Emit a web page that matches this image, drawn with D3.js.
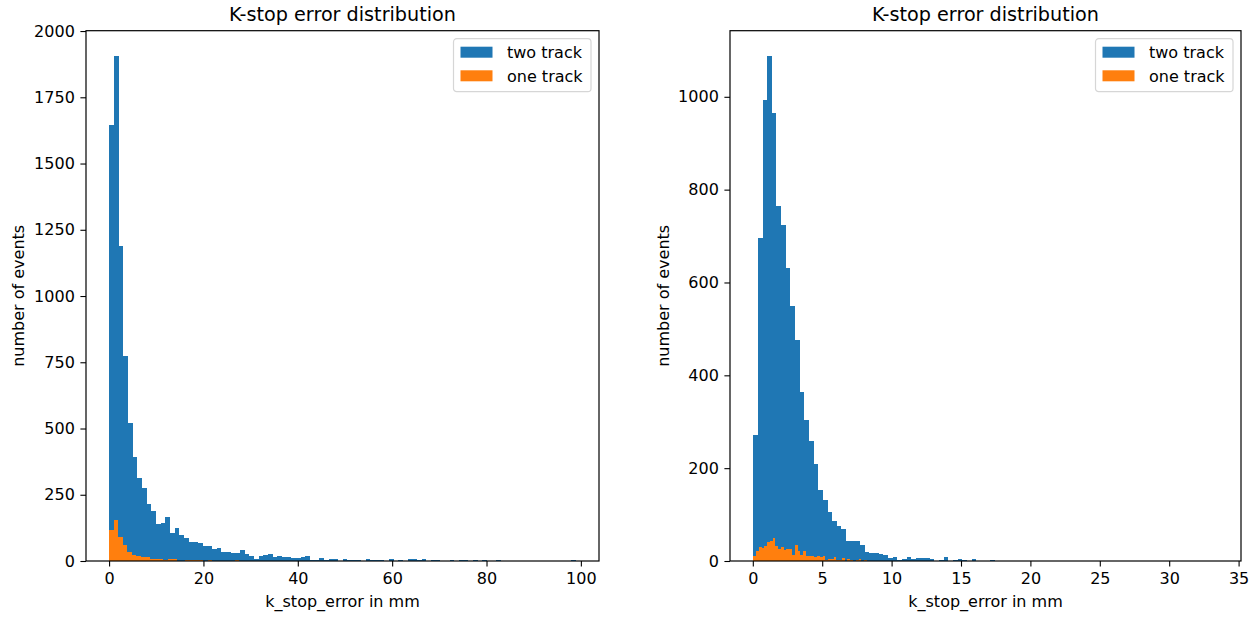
<!DOCTYPE html>
<html>
<head>
<meta charset="utf-8">
<script src="https://cdn.jsdelivr.net/npm/d3@7/dist/d3.min.js"></script>
<style>
  html, body { margin: 0; padding: 0; background: #fff; }
  svg { display: block; font-family: "DejaVu Sans", sans-serif; }
</style>
</head>
<body>
<svg id="chart" width="1256" height="619"></svg>
<script>
// histogram counts, 100 bins each
const leftTwoTrack = [
  1645, 1906, 1189, 774, 521, 392, 313, 275, 215, 189,
  140, 143, 166, 106, 125, 98, 87, 72, 72, 68,
  57, 57, 45, 49, 34, 34, 30, 30, 42, 26,
  19, 8, 19, 23, 26, 15, 19, 15, 15, 11,
  11, 15, 19, 4, 4, 11, 4, 8, 8, 1,
  8, 4, 4, 4, 1, 8, 4, 4, 4, 0,
  8, 0, 4, 0, 8, 8, 4, 8, 0, 4,
  4, 0, 0, 4, 0, 4, 4, 0, 4, 0,
  4, 0, 0, 4, 0, 0, 0, 0, 0, 0,
  0, 0, 0, 0, 0, 0, 0, 0, 0, 4
];
const leftOneTrack = [
  117, 155, 91, 60, 35, 23, 19, 15, 15, 8,
  8, 8, 4, 8, 8, 0, 0, 4, 4, 4,
  4, 0, 4, 0, 0, 0, 0, 0, 4, 0,
  0, 0, 0, 0, 0, 0, 0, 0, 0, 0,
  0, 0, 0, 0, 0, 0, 0, 0, 0, 0,
  0, 0, 0, 0, 0, 0, 0, 0, 0, 0,
  0, 0, 0, 0, 0, 0, 0, 0, 0, 0,
  0, 0, 0, 0, 0, 0, 0, 0, 0, 0,
  0, 0, 0, 0, 0, 0, 0, 0, 0, 0,
  0, 0, 0, 0, 0, 0, 0, 0, 0, 1
];
const rightTwoTrack = [
  271, 696, 993, 1088, 965, 765, 724, 631, 549, 476,
  364, 304, 259, 209, 153, 131, 106, 86, 75, 69,
  43, 43, 43, 34, 19, 17, 17, 15, 13, 6,
  9, 2, 4, 9, 4, 6, 6, 6, 4, 0,
  2, 9, 0, 2, 4, 2, 0, 4, 0, 0,
  0, 2, 0, 0, 0, 0, 0, 0, 0, 0,
  0, 0, 0, 0, 0, 0, 0, 0, 0, 0,
  0, 0, 0, 0, 0, 0, 0, 0, 0, 0,
  0, 0, 0, 0, 0, 0, 0, 0, 0, 0,
  0, 0, 0, 0, 0, 0, 0, 0, 0, 1
];
const rightOneTrack = [
  11, 21, 30, 28, 32, 42, 43, 50, 32, 26,
  30, 23, 26, 26, 14, 35, 22, 14, 22, 11,
  10, 11, 8, 10, 8, 11, 3, 5, 5, 8,
  3, 3, 7, 1, 4, 2, 0, 2, 4, 0,
  2, 0, 1, 0, 0, 1, 0, 0, 0, 0,
  0, 0, 0, 0, 0, 0, 0, 0, 0, 0,
  0, 0, 0, 0, 0, 0, 0, 0, 0, 0,
  0, 0, 0, 0, 0, 0, 0, 0, 0, 0,
  0, 0, 0, 0, 0, 0, 0, 0, 0, 0,
  0, 0, 0, 0, 0, 0, 0, 0, 0, 1
];

// histogram ranges [min, max] (in mm)
const leftTwoRange = [0.05, 98.9];
const leftOneRange = [0.05, 95];
const rightTwoRange = [0.03, 33.5];
const rightOneRange = [0.03, 20];

const leftXTicks = [0, 20, 40, 60, 80, 100];
const leftYTicks = [0, 250, 500, 750, 1000, 1250, 1500, 1750, 2000];
const rightXTicks = [0, 5, 10, 15, 20, 25, 30, 35];
const rightYTicks = [0, 200, 400, 600, 800, 1000];

const seriesNames = ["two track", "one track"];
const seriesColors = ["#1f77b4", "#ff7f0e"];
const titleText = "K-stop error distribution";
const xLabelText = "k_stop_error in mm";
const yLabelText = "number of events";

const FS = 16;        // base font size
const TICK = 5.6;     // tick length / pad

const svg = d3.select("#chart");

// build bins [x0, x1, count] from a range and counts
function makeBins(range, counts) {
  const w = (range[1] - range[0]) / counts.length;
  return counts.map((c, i) => ({ x0: range[0] + i * w, x1: range[0] + (i + 1) * w, count: c }));
}

function drawPanel(opt) {
  const { left, right, top, bottom } = opt.frame;
  const g = svg.append("g");

  // x domain: data extent padded 5% like matplotlib autoscale
  const lo = opt.twoRange[0], hi = opt.twoRange[1];
  const pad = (hi - lo) * 0.05;
  const x = d3.scaleLinear().domain([lo - pad, hi + pad]).range([left, right]);
  const yMax = d3.max(opt.twoTrack) * 1.05;
  const y = d3.scaleLinear().domain([0, yMax]).range([bottom, top]);

  // bars: two track first, one track drawn on top
  const series = [
    makeBins(opt.twoRange, opt.twoTrack),
    makeBins(opt.oneRange, opt.oneTrack)
  ];
  series.forEach((bins, si) => {
    g.append("g")
      .attr("shape-rendering", "crispEdges")
      .selectAll("rect")
      .data(bins.filter(b => b.count > 0))
      .join("rect")
      .attr("x", d => x(d.x0))
      .attr("width", d => x(d.x1) - x(d.x0))
      .attr("y", d => y(d.count))
      .attr("height", d => y(0) - y(d.count))
      .attr("fill", seriesColors[si]);
  });

  // axes
  const xAxis = d3.axisBottom(x).tickValues(opt.xTicks).tickFormat(d3.format("d"))
    .tickSize(TICK).tickPadding(TICK);
  const yAxis = d3.axisLeft(y).tickValues(opt.yTicks).tickFormat(d3.format("d"))
    .tickSize(TICK).tickPadding(TICK);

  const gx = g.append("g").attr("transform", `translate(0,${bottom})`).call(xAxis);
  const gy = g.append("g").attr("transform", `translate(${left},0)`).call(yAxis);
  [gx, gy].forEach(a => {
    a.select(".domain").remove();
    a.selectAll("line").attr("stroke", "#000").attr("stroke-width", 1.1);
    a.selectAll("text").attr("fill", "#000")
      .style("font-size", FS + "px").style("font-family", "DejaVu Sans");
  });

  // spines
  g.append("rect")
    .attr("x", left).attr("y", top)
    .attr("width", right - left).attr("height", bottom - top)
    .attr("fill", "none").attr("stroke", "#000").attr("stroke-width", 1.2);

  // title and labels
  const cx = (left + right) / 2;
  g.append("text").attr("x", cx).attr("y", top - 9.8)
    .attr("text-anchor", "middle").style("font-size", "19.2px").text(titleText);
  g.append("text").attr("x", cx).attr("y", 607)
    .attr("text-anchor", "middle").style("font-size", FS + "px").text(xLabelText);
  g.append("text")
    .attr("transform", `translate(${opt.yLabelX},${(top + bottom) / 2}) rotate(-90)`)
    .attr("text-anchor", "middle").style("font-size", FS + "px").text(yLabelText);

  // legend, upper right
  const lw = 137.5, lh = 53;
  const lx = right - 8 - lw, ly = top + 8;
  const leg = g.append("g").attr("transform", `translate(${lx},${ly})`);
  leg.append("rect")
    .attr("width", lw).attr("height", lh).attr("rx", 3.2)
    .attr("fill", "#fff").attr("fill-opacity", 0.8)
    .attr("stroke", "#d6d6d6").attr("stroke-width", 1.2);
  seriesNames.forEach((name, i) => {
    const row = leg.append("g").attr("transform", `translate(0,${8 + i * 23.6})`);
    row.append("rect").attr("x", 7).attr("y", 0).attr("width", 32).attr("height", 11)
      .attr("fill", seriesColors[i]);
    row.append("text").attr("x", 53.5).attr("y", 11.3)
      .style("font-size", FS + "px").text(name);
  });
}

drawPanel({
  frame: { left: 86, right: 599, top: 30.7, bottom: 561 },
  twoTrack: leftTwoTrack, oneTrack: leftOneTrack,
  twoRange: leftTwoRange, oneRange: leftOneRange,
  xTicks: leftXTicks, yTicks: leftYTicks,
  yLabelX: 23.5
});

drawPanel({
  frame: { left: 730, right: 1241, top: 30.7, bottom: 561 },
  twoTrack: rightTwoTrack, oneTrack: rightOneTrack,
  twoRange: rightTwoRange, oneRange: rightOneRange,
  xTicks: rightXTicks, yTicks: rightYTicks,
  yLabelX: 668.5
});
</script>
</body>
</html>
